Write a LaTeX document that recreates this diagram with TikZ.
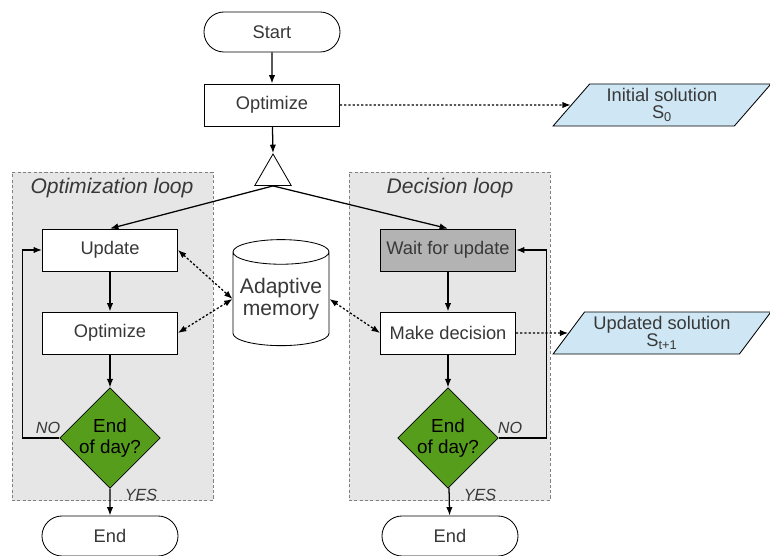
\documentclass[tikz,border=0pt]{standalone}
\usepackage{fontspec}
\setmainfont{Liberation Sans}
\usepackage{tikz}
\usetikzlibrary{shapes, arrows.meta}

\definecolor{txtgray}{HTML}{383838}
\definecolor{loopgray}{HTML}{E6E6E6}
\definecolor{waitgray}{HTML}{B3B3B3}
\definecolor{daygreen}{HTML}{579D1C}
\definecolor{solblue}{HTML}{CFE7F5}

\begin{document}
\begin{tikzpicture}[x=0.025cm, y=-0.025cm, >={Latex[length=6pt,width=4.5pt]},
        font=\fontsize{13}{14}\selectfont,
        box/.style={draw, line width=0.6pt, fill=white, text=txtgray, inner sep=0pt,
            minimum width=3.375cm, minimum height=1.05cm},
        term/.style={draw, line width=0.6pt, fill=white, text=txtgray, rounded rectangle,
            inner sep=0pt, minimum width=3.4cm, minimum height=1cm},
        decide/.style={draw, line width=0.5pt, fill=daygreen, diamond, aspect=1, inner sep=0pt,
            align=center, font=\fontsize{13.4}{15}\selectfont,
            minimum width=2.375cm, minimum height=2.425cm},
        solution/.style={draw, line width=0.6pt, fill=solblue, text=txtgray, trapezium,
            trapezium left angle=50, trapezium right angle=130, trapezium stretches=true,
            align=center, inner sep=0pt, minimum width=5.45cm, minimum height=1.05cm,
            font=\fontsize{13}{12}\selectfont},
        loopbox/.style={draw=gray, dash pattern=on 2.2pt off 1.6pt, fill=loopgray,
            line width=0.6pt, minimum width=5.025cm, minimum height=8.2cm},
        looplbl/.style={text=txtgray, font=\fontsize{15}{16}\itshape},
        answer/.style={text=txtgray, font=\fontsize{11.5}{12}\itshape},
        flow/.style={->, line width=0.9pt},
        info/.style={line width=0.9pt, dash pattern=on 1.6pt off 1.4pt}]

    \useasboundingbox (0,0) rectangle (770,556);

    % the two loops
    \node [loopbox] (optloop) at (112.5,336.5) {};
    \node [loopbox] (decloop) at (449.5,336.5) {};
    \node [looplbl] (optlbl) at (112,188) {Optimization loop};
    \node [looplbl] (declbl) at (450,188) {Decision loop};

    % start
    \node [term] (start) at (272,32) {Start};
    \node [box] (opt) at (272,105) {Optimize};
    \node [solution] (init) at (662,105) {Initial solution\\S\textsubscript{0}};
    \node [draw, line width=0.6pt, regular polygon, regular polygon sides=3, inner sep=0pt,
        minimum size=1.05cm] (split) at (273,175) {};

    % optimization loop
    \node [box] (upd) at (110,250) {Update};
    \node [box] (opt2) at (110,333) {Optimize};
    \node [decide] (endopt) at (110,438) {End\\of day?};
    \node [term] (end1) at (110,536) {End};
    \node [answer] (no1) at (48,428) {NO};
    \node [answer] (yes1) at (141,495) {YES};

    % memory
    \node [draw, line width=0.6pt, fill=white, cylinder, shape border rotate=90, aspect=0.3,
        inner sep=0pt, minimum width=2.4cm, minimum height=2.65cm, align=center,
        text=txtgray, font=\fontsize{15}{15.5}\selectfont] (mem) at (281,299) {Adaptive\\memory};

    % decision loop
    \node [box, fill=waitgray] (wait) at (448,250) {Wait for update};
    \node [box] (dec) at (448,333) {Make decision};
    \node [decide] (enddec) at (448,438) {End\\of day?};
    \node [term] (end2) at (450,536) {End};
    \node [answer] (no2) at (510,428) {NO};
    \node [answer] (yes2) at (480,495) {YES};
    \node [solution] (upsol) at (662,333) {Updated solution\\S\textsubscript{t+1}};

    \draw [flow] (start) -- (opt);
    \draw [flow] (opt) -- (split.north);
    \draw [info, ->] (opt) -- (init.west);
    \draw [flow] (split.south) -- (upd.north);
    \draw [flow] (split.south) -- (wait.north);

    \draw [flow] (upd) -- (opt2);
    \draw [flow] (opt2) -- (endopt);
    \draw [flow] (endopt) -- (end1);
    \draw [flow] (endopt.west) -- ++(-37,0) |- (upd.west);

    \draw [flow] (wait) -- (dec);
    \draw [flow] (dec) -- (enddec);
    \draw [flow] (enddec) -- (end2);
    \draw [flow] (enddec.east) -- ++(48,0) |- (wait.east);

    \draw [info, <->] (upd.east) -- (mem.west);
    \draw [info, <->] (opt2.east) -- (mem.west);
    \draw [info, <->] (mem.east) -- (dec.west);
    \draw [info, ->] (dec.east) -- (upsol.west);
\end{tikzpicture}
\end{document}
